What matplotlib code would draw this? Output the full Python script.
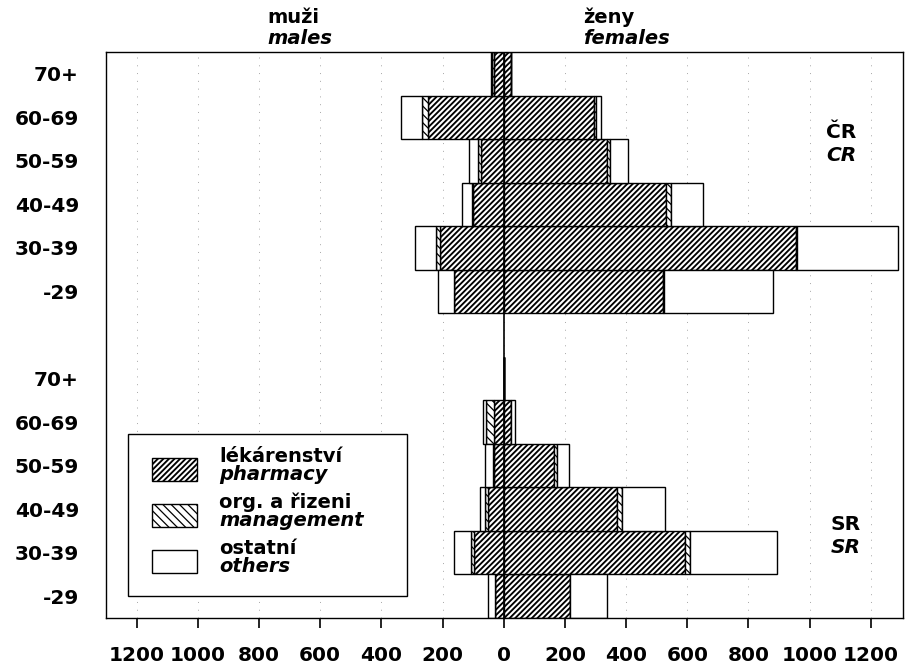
import matplotlib
matplotlib.use("Agg")
import matplotlib.pyplot as plt
from matplotlib.patches import Rectangle
import numpy as np

plt.rcParams['font.family'] = ['DejaVu Sans']
plt.rcParams['font.weight'] = 'bold'

# age groups, bottom -> top
ages = ["-29", "30-39", "40-49", "50-59", "60-69", "70+"]

# Czech Republic (CR)
cr_m_pharm = [161, 207, 101, 74, 248, 33]
cr_m_mgmt  = [3, 14, 4, 9, 20, 5]
cr_m_oth   = [52, 68, 30, 29, 67, 5]
cr_f_pharm = [522, 955, 530, 339, 295, 24]
cr_f_mgmt  = [3, 5, 17, 8, 5, 0]
cr_f_oth   = [355, 330, 105, 59, 19, 0]

# Slovak Republic (SR)
sr_m_pharm = [30, 98, 52, 33, 33, 0]
sr_m_mgmt  = [0, 8, 10, 3, 24, 0]
sr_m_oth   = [22, 57, 16, 26, 10, 0]
sr_f_pharm = [218, 592, 369, 165, 24, 0]
sr_f_mgmt  = [0, 17, 19, 9, 0, 0]
sr_f_oth   = [120, 285, 139, 38, 14, 0]

xticks = [-1200, -1000, -800, -600, -400, -200, 0, 200, 400, 600, 800, 1000, 1200]
xticklabels = ["1200", "1000", "800", "600", "400", "200", "0",
               "200", "400", "600", "800", "1000", "1200"]

W, H = 905, 670
fig = plt.figure(figsize=(W / 100, H / 100), dpi=100)
ax_l, ax_r, ax_t, ax_b = 106, 903, 52, 618
ax = fig.add_axes([ax_l / W, 1 - ax_b / H, (ax_r - ax_l) / W, (ax_b - ax_t) / H])

styles = [dict(hatch='//////', hlw=1.35), dict(hatch='\\\\\\\\', hlw=0.9), dict(hatch=None, hlw=0.9)]


def set_hlw(artists, lw):
    for a in artists:
        if hasattr(a, 'set_hatch_linewidth'):
            a.set_hatch_linewidth(lw)


def draw_panel(offset, m_lists, f_lists):
    y = np.arange(len(ages)) + offset
    for side, lists in ((-1, m_lists), (1, f_lists)):
        left = np.zeros(len(ages))
        for vals, st in zip(lists, styles):
            v = np.array(vals, dtype=float)
            with plt.rc_context({'hatch.linewidth': st['hlw']}):
                bars = ax.barh(y, side * v, left=left, height=1.0, color='white',
                               edgecolor='black', linewidth=1.0, hatch=st['hatch'], zorder=2)
            set_hlw(bars, st['hlw'])
            left = left + side * v


draw_panel(0, [sr_m_pharm, sr_m_mgmt, sr_m_oth], [sr_f_pharm, sr_f_mgmt, sr_f_oth])
draw_panel(7, [cr_m_pharm, cr_m_mgmt, cr_m_oth], [cr_f_pharm, cr_f_mgmt, cr_f_oth])

ax.axvline(0, color='black', lw=1.2, zorder=4)

ax.set_xlim(-1300, 1305)
ax.set_ylim(-0.5, 12.5)
ax.set_xticks(xticks)
ax.set_xticklabels(xticklabels, fontsize=14.5, fontweight='bold')
ax.tick_params(axis='x', direction='out', length=7, width=1.2, pad=13)
ax.set_yticks(list(range(6)) + list(range(7, 13)))
ax.set_yticklabels(ages + ages, fontsize=14.5, fontweight='bold')
ax.tick_params(axis='y', length=0, pad=19.5)
ax.grid(axis='x', linestyle=(0, (1, 7)), color='0.65', lw=0.7, zorder=0)
for s in ax.spines.values():
    s.set_linewidth(1.0)
    s.set_color('black')


def fx(px):
    return px / W


def fy(py):
    return 1 - py / H


fs = 14.5
fs2 = 14
fig.text(fx(267), fy(23), "muži", fontsize=fs2, fontweight='bold', va='baseline')
fig.text(fx(267), fy(44), "males", fontsize=fs2, fontweight='bold', style='italic', va='baseline')
fig.text(fx(583), fy(23), "ženy", fontsize=fs2, fontweight='bold', va='baseline')
fig.text(fx(583), fy(44), "females", fontsize=fs2, fontweight='bold', style='italic', va='baseline')

fig.text(fx(841), fy(138), "ČR", fontsize=fs, fontweight='bold', ha='center', va='baseline')
fig.text(fx(841), fy(161), "CR", fontsize=fs, fontweight='bold', style='italic', ha='center', va='baseline')
fig.text(fx(846), fy(530), "SR", fontsize=fs, fontweight='bold', ha='center', va='baseline')
fig.text(fx(846), fy(553), "SR", fontsize=fs, fontweight='bold', style='italic', ha='center', va='baseline')

# legend
fig.add_artist(Rectangle((fx(128), fy(596)), fx(407) - fx(128), fy(434) - fy(596),
                         transform=fig.transFigure, facecolor='white', edgecolor='black',
                         lw=1.0, zorder=5))
leg_items = [("lékárenství", "pharmacy"), ("org. a řizeni", "management"), ("ostatní", "others")]
for i, ((l1, l2), st) in enumerate(zip(leg_items, styles)):
    cy = 469.5 + 46 * i
    with plt.rc_context({'hatch.linewidth': st['hlw']}):
        r = Rectangle((fx(152), fy(cy + 11.5)), fx(197) - fx(152), fy(cy - 11.5) - fy(cy + 11.5),
                      transform=fig.transFigure, facecolor='white', edgecolor='black',
                      lw=1.0, hatch=st['hatch'], zorder=6)
    set_hlw([r], st['hlw'])
    fig.add_artist(r)
    fig.text(fx(219), fy(cy - 7), l1, fontsize=fs2, fontweight='bold', va='baseline', zorder=6)
    fig.text(fx(219), fy(cy + 11), l2, fontsize=fs2, fontweight='bold', style='italic',
             va='baseline', zorder=6)

fig.savefig("out.png", dpi=100)
